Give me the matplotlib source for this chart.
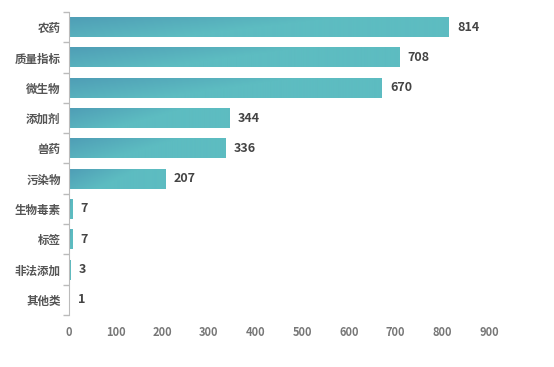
import matplotlib.pyplot as plt
import numpy as np
from matplotlib.colors import LinearSegmentedColormap

plt.rcParams["font.family"] = ["Noto Sans CJK SC", "DejaVu Sans"]

# 数据
categories = ["农药", "质量指标", "微生物", "添加剂", "兽药", "污染物", "生物毒素", "标签", "非法添加", "其他类"]
counts = [814, 708, 670, 344, 336, 207, 7, 7, 3, 1]
xticks = [0, 100, 200, 300, 400, 500, 600, 700, 800, 900]

fig = plt.figure(figsize=(5.54, 3.67), dpi=100)
ax = fig.add_axes([0.1245, 0.1417, 0.7582, 0.8256])

cmap = LinearSegmentedColormap.from_list("bar", ["#4f9eb6", "#5dbcc1"])
# 斜向渐变（左上深、右下浅）
gx, gy = np.meshgrid(np.linspace(0, 1, 200), np.linspace(0, 1, 20))
grad = np.clip(1.4 * gx + 0.6 * gy, 0, 1)
h = 0.66
for i, v in enumerate(counts):
    ax.imshow(grad, cmap=cmap, aspect="auto", extent=(0, v, i + h / 2, i - h / 2),
              interpolation="bilinear", zorder=2, vmin=0, vmax=1)
    ax.text(v + 18, i, str(v), va="center", ha="left", fontsize=9,
            fontweight="bold", color="#444444")

ax.set_xlim(0, 900)
ax.set_ylim(len(categories) - 0.5, -0.5)
ax.set_xticks(xticks)
ax.set_xticklabels([str(t) for t in xticks], fontsize=8, color="#777777", fontweight="bold")
ax.set_yticks(range(len(categories)))
ax.set_yticklabels(categories, fontsize=8.3, color="#555555", fontweight="bold")
ax.set_yticks(np.arange(-0.5, len(categories), 1), minor=True)
ax.tick_params(axis="y", which="major", length=0, pad=6)
ax.tick_params(axis="y", which="minor", length=4, color="#bbbbbb", width=1)
ax.tick_params(axis="x", length=0, pad=8)
for s in ["top", "right", "bottom"]:
    ax.spines[s].set_visible(False)
ax.spines["left"].set_color("#bbbbbb")

plt.savefig("out.png", dpi=100)
